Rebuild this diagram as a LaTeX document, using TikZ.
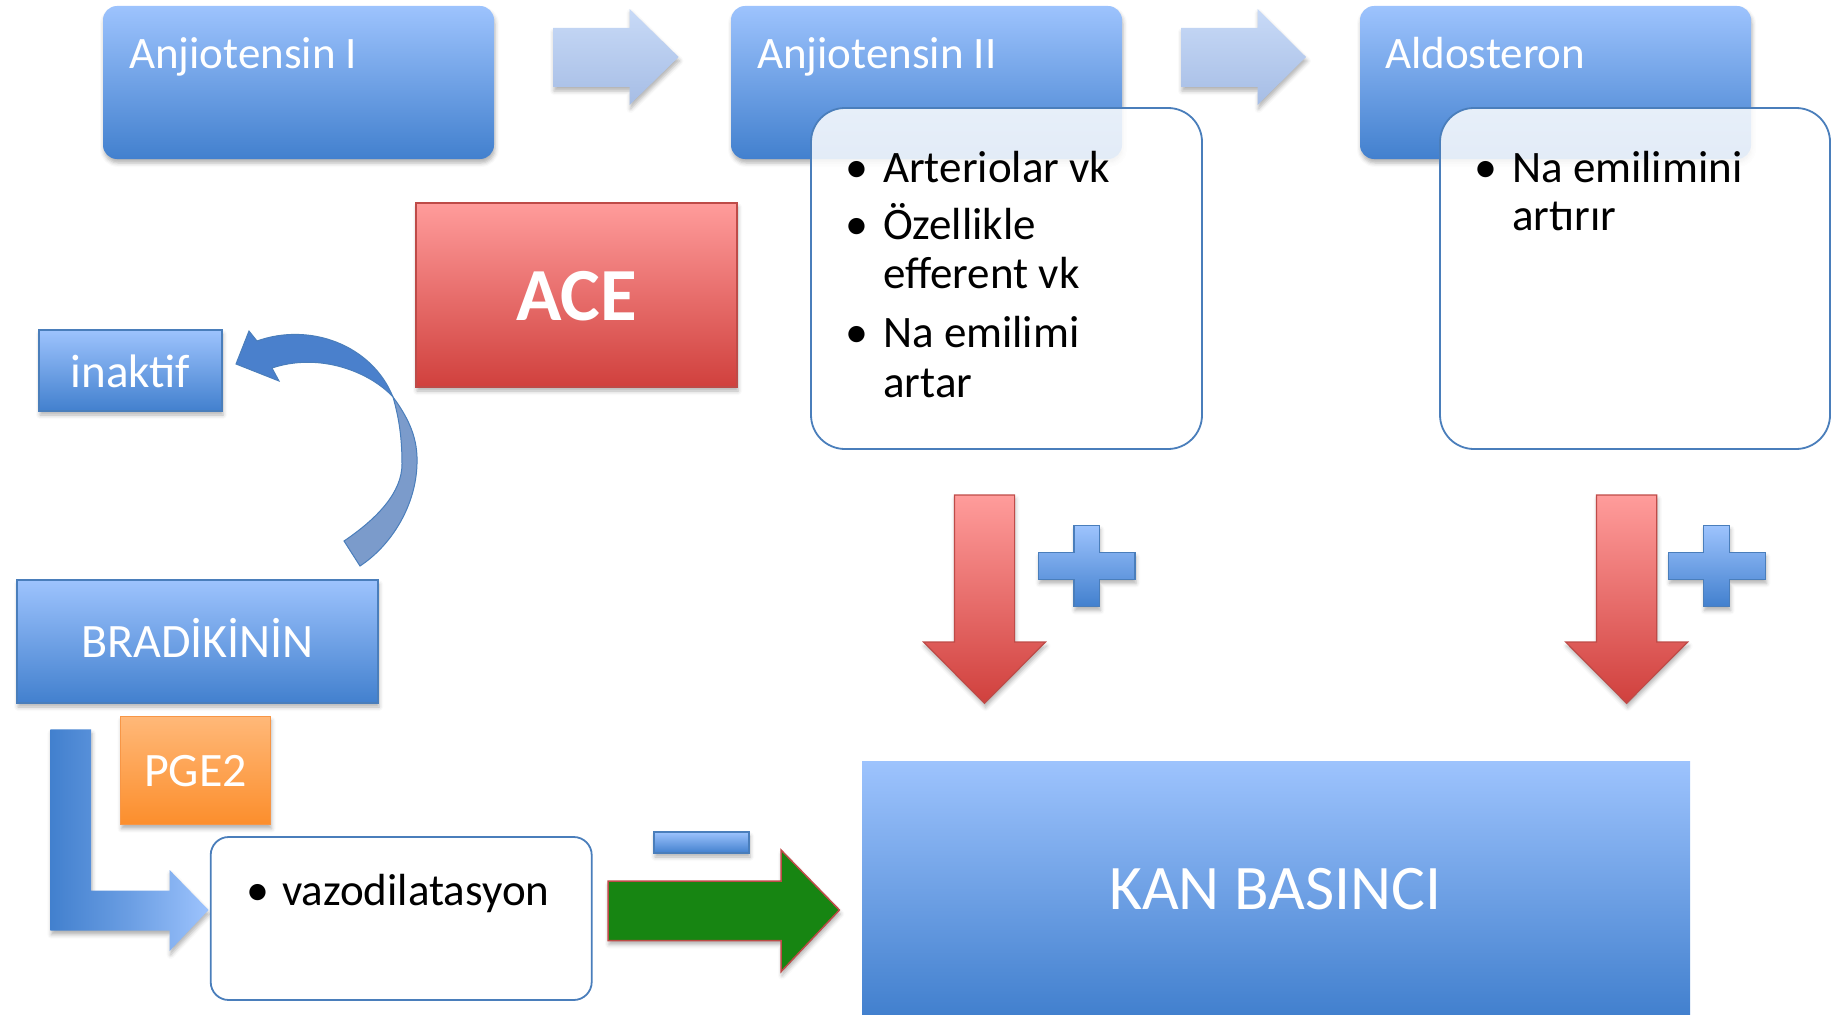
\documentclass[tikz,border=0pt]{standalone}
\usepackage{fontspec}
\setmainfont{Carlito}
\usetikzlibrary{shadows.blur}
\definecolor{bluetop}{HTML}{9DC3FD}
\definecolor{bluebot}{HTML}{4280CE}
\definecolor{blueline}{HTML}{4A7EBB}
\definecolor{redtop}{HTML}{FF9C9B}
\definecolor{redbot}{HTML}{D0403D}
\definecolor{redline}{HTML}{BE4B48}
\definecolor{orangetop}{HTML}{FFB878}
\definecolor{orangebot}{HTML}{FC8E2C}
\definecolor{orangeline}{HTML}{F79646}
\definecolor{ltarrowtop}{HTML}{C8DAF7}
\definecolor{ltarrowbot}{HTML}{A6BDE5}
\definecolor{greenfill}{HTML}{178512}
\definecolor{curvedark}{HTML}{4A80CC}
\definecolor{curvelight}{HTML}{7B9BCB}
\begin{document}
\begin{tikzpicture}[x=1pt,y=-1pt,
  softshadow/.style={blur shadow={shadow xshift=1pt, shadow yshift=-4pt, shadow blur radius=4pt, shadow opacity=30}},
  boxbase/.style={anchor=north west, inner sep=0pt, outer sep=0pt},
  topbox/.style={boxbase, rounded corners=14pt, top color=bluetop, bottom color=bluebot, minimum width=391pt, minimum height=153pt, softshadow},
  flatblue/.style={boxbase, top color=bluetop, bottom color=bluebot, draw=blueline, line width=1.5pt, softshadow},
  whitebox/.style={boxbase, rounded corners=34pt, fill=white, fill opacity=0.85, draw=blueline, line width=1.8pt},
  wlabel/.style={inner sep=0pt, text=white, font=\fontsize{45}{54}\selectfont},
  btext/.style={inner sep=0pt, anchor=base west, text=black, font=\fontsize{45}{52}\selectfont},
  bul/.style={inner sep=0pt, anchor=base, text=black, font=\fontsize{46}{52}\selectfont},
  lightarrow/.style={top color=ltarrowtop, bottom color=ltarrowbot, softshadow},
  redarrow/.style={top color=redtop, bottom color=redbot, draw=redline, line width=1.2pt, softshadow},
  plusshape/.style={top color=bluetop, bottom color=bluebot, draw=blueline, line width=1.2pt, softshadow}
]
\useasboundingbox (0,0) rectangle (1843,1014);

% top boxes
\node[topbox] (a1) at (103,6) {};
\node[wlabel, anchor=base west] (a1t) at (129,69) {Anjiotensin I};
\node[topbox] (a2) at (731,6) {};
\node[wlabel, anchor=base west] (a2t) at (757,69) {Anjiotensin II};
\node[topbox] (al) at (1360,6) {};
\node[wlabel, anchor=base west] (alt) at (1385,69) {Aldosteron};

% light arrows
\path[lightarrow] (553,28) -- (629.5,28) -- (629.5,9) -- (678.6,57) -- (629.5,105) -- (629.5,87) -- (553,87) -- cycle;
\path[lightarrow] (1181,28) -- (1257.5,28) -- (1257.5,9) -- (1306,57) -- (1257.5,105) -- (1257.5,87) -- (1181,87) -- cycle;

% white boxes
\node[whitebox, minimum width=391pt, minimum height=341pt] (w2) at (811,108) {};
\node[bul] (w2b1) at (857,182) {•};
\node[btext] (w2l1) at (883,182) {Arteriolar vk};
\node[bul] (w2b2) at (857,239.5) {•};
\node[btext] (w2l2) at (883,239.5) {Özellikle};
\node[btext] (w2l3) at (883,288.5) {efferent vk};
\node[bul] (w2b3) at (857,347) {•};
\node[btext] (w2l4) at (883,347) {Na emilimi};
\node[btext] (w2l5) at (883,397) {artar};

\node[whitebox, minimum width=390pt, minimum height=341pt] (w3) at (1440,108) {};
\node[bul] (w3b1) at (1486,182) {•};
\node[btext] (w3l1) at (1512,182) {Na emilimini};
\node[btext] (w3l2) at (1512,230) {artırır};

% ACE
\node[boxbase, top color=redtop, bottom color=redbot, draw=redline, line width=1.5pt, minimum width=321pt, minimum height=184pt, softshadow] (ace) at (416,203) {};
\node[inner sep=0pt, anchor=base, text=white, font=\fontsize{75}{80}\selectfont\bfseries] (acet) at (576.5,320) {ACE};

% inaktif
\node[flatblue, minimum width=183pt, minimum height=81pt] (ina) at (39,330) {};
\node[wlabel, anchor=base, font=\fontsize{47}{54}\selectfont] (inat) at (130.5,387) {inaktif};

% curved arrow
\path[fill=curvelight, draw=blueline, line width=1pt] (393,397) .. controls (410,420) and (418,440) .. (417,464) .. controls (416,505) and (392,545) .. (360,566) -- (344,541) .. controls (378,518) and (402,492) .. (402,464) .. controls (402,438) and (399,418) .. (393,397) -- cycle;
\path[fill=curvedark, draw=blueline, line width=1pt] (257,341) .. controls (310,322) and (372,345) .. (393,397) .. controls (370,372) and (320,352) .. (272,368) -- (279,381) -- (236,364) -- (249,331) -- cycle;

% BRADIKININ
\node[flatblue, minimum width=361pt, minimum height=123pt] (brad) at (17,580) {};
\node[wlabel, anchor=base, font=\fontsize{48}{54}\selectfont] (bradt) at (197.5,657.5) {BRADİKİNİN};

% PGE2
\node[boxbase, top color=orangetop, bottom color=orangebot, draw=orangeline, line width=1.2pt, minimum width=150pt, minimum height=108pt, softshadow] (pge) at (120.5,716.7) {};
\node[wlabel, anchor=base, font=\fontsize{48}{54}\selectfont] (pget) at (195.5,786) {PGE2};

% bent arrow
\path[left color=bluebot, right color=bluetop, middle color=bluebot!55!bluetop, softshadow] (50.4,729.4) -- (91,729.4) -- (91,890.6) -- (169.6,890.6) -- (169.6,870) -- (208.5,910) -- (169.6,951) -- (169.6,930.7) -- (50.4,930.7) -- cycle;

% vazodilatasyon
\node[boxbase, rounded corners=18pt, fill=white, draw=blueline, line width=1.8pt, minimum width=381pt, minimum height=163pt] (vazo) at (210.7,837) {};
\node[bul] (vazob) at (258,905.5) {•};
\node[btext] (vazot) at (282,905.5) {vazodilatasyon};

% minus and green arrow
\path[plusshape] (654,832) rectangle (749,853);
\path[fill=greenfill, draw=redline, line width=1.5pt, softshadow] (608,881) -- (781,881) -- (781,850) -- (839.4,910) -- (781,971.7) -- (781,940.5) -- (608,940.5) -- cycle;

% KAN BASINCI
\node[boxbase, top color=bluetop, bottom color=bluebot, minimum width=828pt, minimum height=253pt] (kan) at (862,761.7) {};
\node[inner sep=0pt, anchor=base, text=white, font=\fontsize{63.5}{70}\selectfont] (kant) at (1275,909) {KAN BASINCI};

% red arrows
\path[redarrow] (954.4,495) -- (1014.6,495) -- (1014.6,642) -- (1045.5,642) -- (984.5,703.3) -- (923.5,642) -- (954.4,642) -- cycle;
\path[redarrow] (1596.5,495) -- (1656.8,495) -- (1656.8,642) -- (1687.7,642) -- (1626.6,703.3) -- (1565.6,642) -- (1596.5,642) -- cycle;

% plus signs
\path[plusshape] (1074,525.6) -- (1099.4,525.6) -- (1099.4,552.6) -- (1135,552.6) -- (1135,579.4) -- (1099.4,579.4) -- (1099.4,606.5) -- (1074,606.5) -- (1074,579.4) -- (1038.4,579.4) -- (1038.4,552.6) -- (1074,552.6) -- cycle;
\path[plusshape] (1703.5,525.6) -- (1729.7,525.6) -- (1729.7,552.6) -- (1765.4,552.6) -- (1765.4,579.4) -- (1729.7,579.4) -- (1729.7,606.5) -- (1703.5,606.5) -- (1703.5,579.4) -- (1668.7,579.4) -- (1668.7,552.6) -- (1703.5,552.6) -- cycle;
\end{tikzpicture}
\end{document}
